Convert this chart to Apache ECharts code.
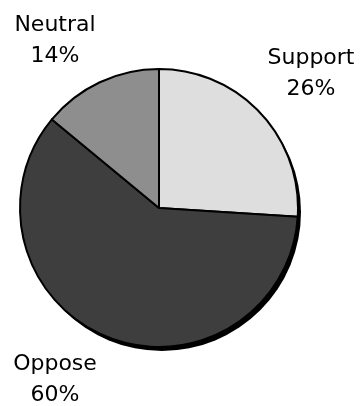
<!DOCTYPE html>
<html>
<head>
<meta charset="utf-8">
<script src="https://cdn.jsdelivr.net/npm/echarts@6/dist/echarts.min.js"></script>
<style>
  html, body { margin: 0; padding: 0; background: #ffffff; }
  #chart { width: 362px; height: 406px; }
</style>
</head>
<body>
<div id="chart"></div>
<script>
// Opinion shares, drawn clockwise from 12 o'clock
const categories = ['Support', 'Oppose', 'Neutral'];
const shares = [26, 60, 14];
const sliceColors = ['#dedede', '#3e3e3e', '#8e8e8e'];
// where each two-line label block is centred
const labelSpots = [[311, 74], [55, 380], [55, 41]];

const chart = echarts.init(document.getElementById('chart'), null, { renderer: 'canvas' });

const center = [159, 208];
const radius = 139;

chart.setOption({
  animation: false,
  series: [
    {
      // dark rim that thickens toward the lower right
      type: 'pie',
      silent: true,
      center: [center[0] + 3, center[1] + 4],
      radius: radius,
      label: { show: false },
      labelLine: { show: false },
      itemStyle: { color: '#000000' },
      data: [{ value: 1, name: 'rim' }],
      z: 1
    },
    {
      type: 'pie',
      center: center,
      radius: radius,
      startAngle: 90,
      clockwise: true,
      z: 2,
      itemStyle: { borderColor: '#000000', borderWidth: 2 },
      labelLine: { show: false },
      label: {
        show: true,
        position: 'outside',
        alignTo: 'none',
        overflow: 'none',
        width: 140,
        formatter: '{b}\n{d}%',
        fontFamily: 'DejaVu Sans',
        fontSize: 22,
        lineHeight: 31,
        color: '#000000',
        align: 'center'
      },
      labelLayout: function (params) {
        const spot = labelSpots[params.dataIndex];
        return { x: spot[0], y: spot[1], align: 'center', verticalAlign: 'middle' };
      },
      data: categories.map(function (name, i) {
        return { name: name, value: shares[i], itemStyle: { color: sliceColors[i] } };
      })
    }
  ]
});
</script>
</body>
</html>
